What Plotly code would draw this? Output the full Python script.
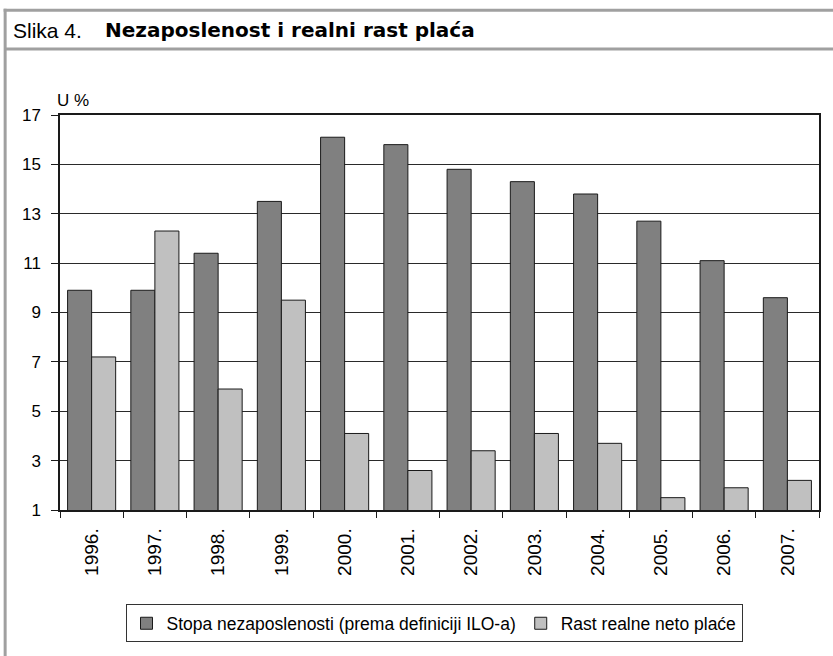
import plotly.graph_objects as go

years = ["1996.", "1997.", "1998.", "1999.", "2000.", "2001.",
         "2002.", "2003.", "2004.", "2005.", "2006.", "2007."]
unemployment = [9.9, 9.9, 11.4, 13.5, 16.1, 15.8, 14.8, 14.3, 13.8, 12.7, 11.1, 9.6]
real_wage_growth = [7.2, 12.3, 5.9, 9.5, 4.1, 2.6, 3.4, 4.1, 3.7, 1.5, 1.9, 2.2]

W, H = 833, 656
# plot area in pixels
L, R, T, B = 60, 821, 115, 510.5
FONT = "Liberation Sans, Arial, sans-serif"


def px_x(x):
    return (x - L) / (R - L)


def px_y(y):
    return (B - y) / (B - T)


fig = go.Figure()
fig.add_trace(go.Bar(
    x=years, y=unemployment,
    name="Stopa nezaposlenosti (prema definiciji ILO-a)",
    marker=dict(color="#808080", line=dict(color="#1a1a1a", width=1)),
))
fig.add_trace(go.Bar(
    x=years, y=real_wage_growth,
    name="Rast realne neto plaće",
    marker=dict(color="#c0c0c0", line=dict(color="#1a1a1a", width=1)),
))

frame = "#a0a0a0"
shapes = [
    dict(type="line", xref="paper", yref="paper",
         x0=px_x(3.5), x1=px_x(W + 5), y0=px_y(10), y1=px_y(10),
         line=dict(color=frame, width=3)),
    dict(type="line", xref="paper", yref="paper",
         x0=px_x(5), x1=px_x(5), y0=px_y(8.5), y1=px_y(H + 5),
         line=dict(color=frame, width=3)),
    dict(type="line", xref="paper", yref="paper",
         x0=px_x(5), x1=px_x(W + 5), y0=px_y(49), y1=px_y(49),
         line=dict(color=frame, width=3)),
]

annotations = [
    dict(text="Slika 4.", xref="paper", yref="paper", x=px_x(11), y=px_y(30),
         xanchor="left", yanchor="middle", showarrow=False,
         font=dict(family=FONT, size=21, color="#000000")),
    dict(text="<b>Nezaposlenost i realni rast plaća</b>",
         xref="paper", yref="paper", x=px_x(103), y=px_y(30),
         xanchor="left", yanchor="middle", showarrow=False,
         font=dict(family="DejaVu Sans, sans-serif", size=20, color="#000000")),
    dict(text="U %", xref="paper", yref="paper", x=px_x(55), y=px_y(100),
         xanchor="left", yanchor="middle", showarrow=False,
         font=dict(family=FONT, size=17, color="#000000")),
]

fig.update_layout(
    width=W, height=H,
    margin=dict(l=L, r=W - R, t=T, b=H - B, pad=0),
    paper_bgcolor="white", plot_bgcolor="white",
    barmode="group", bargap=0.24, bargroupgap=0,
    font=dict(family=FONT, size=17, color="#000000"),
    showlegend=True,
    legend=dict(
        orientation="h", x=px_x(435), xanchor="center",
        y=px_y(605), yanchor="top",
        bordercolor="#333333", borderwidth=1,
        font=dict(family=FONT, size=17.5, color="#000000"),
        traceorder="normal", itemwidth=30,
    ),
    shapes=shapes,
    annotations=annotations,
)

fig.update_yaxes(
    range=[1, 17], tickvals=[1, 3, 5, 7, 9, 11, 13, 15, 17],
    showgrid=True, gridcolor="#2a2a2a", gridwidth=1,
    showline=True, linecolor="#1a1a1a", linewidth=1.5, mirror=True,
    ticks="outside", ticklen=7, tickcolor="#1a1a1a",
    ticklabelstandoff=7, zeroline=False,
    tickfont=dict(family=FONT, size=17, color="#000000"),
)
fig.update_xaxes(
    showline=True, linecolor="#1a1a1a", linewidth=1.5, mirror=True,
    ticks="outside", ticklen=6, tickcolor="#1a1a1a", tickson="boundaries",
    tickangle=-90, ticklabelstandoff=9,
    tickfont=dict(family=FONT, size=19, color="#000000"),
)

fig.write_html("out.html", config={"displayModeBar": False},
               post_script="document.body.style.margin='0';")
